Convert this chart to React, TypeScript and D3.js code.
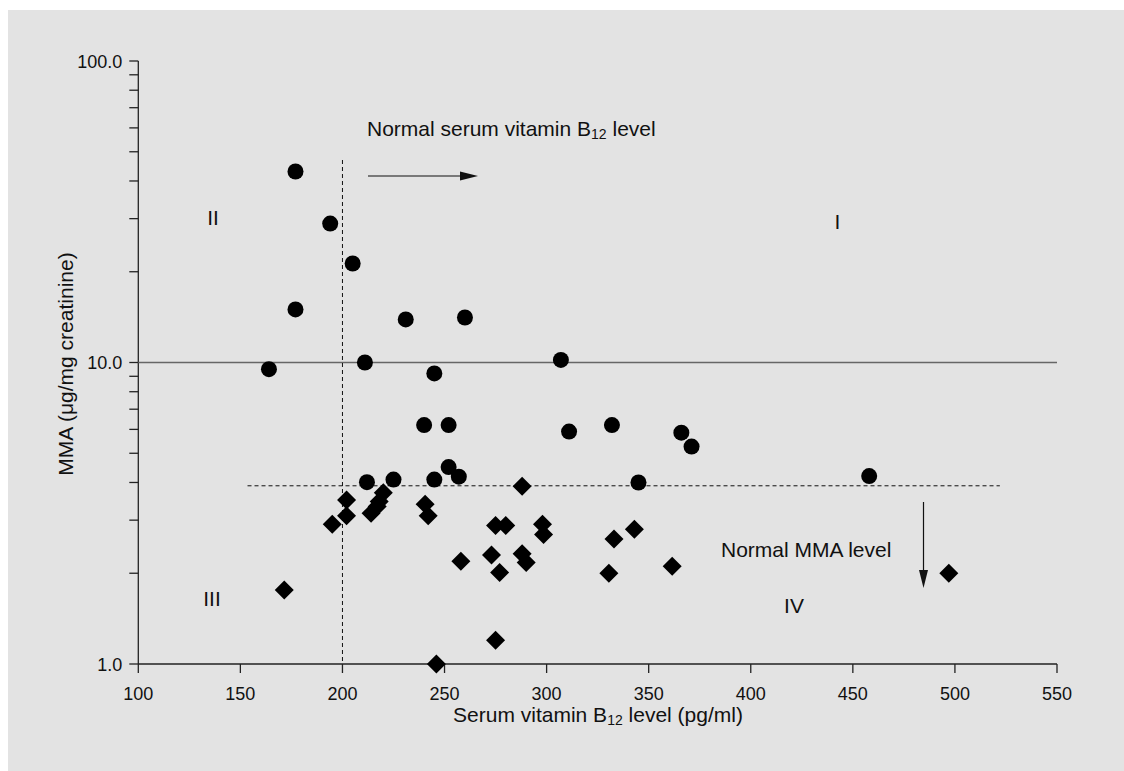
import React from "react";
import * as d3 from "d3";

// Data
const circleB12 = [177, 194, 205, 177, 231, 164, 211, 245, 260, 307, 240, 252, 311, 332, 366, 371, 252, 257, 212, 225, 245, 345, 458];
const circleMMA = [43.0, 28.9, 21.3, 15.0, 13.9, 9.5, 10.0, 9.2, 14.1, 10.2, 6.2, 6.2, 5.9, 6.2, 5.85, 5.26, 4.5, 4.18, 4.01, 4.09, 4.09, 4.0, 4.2];

const diamondB12 = [202, 202, 195, 220, 218, 217, 214, 240.5, 242, 275, 280, 258, 273, 277, 171.5, 275, 246, 288, 298, 298.5, 333, 343, 288, 290, 330.5, 361.5, 497];
const diamondMMA = [3.5, 3.1, 2.91, 3.7, 3.46, 3.33, 3.16, 3.39, 3.1, 2.88, 2.88, 2.19, 2.3, 2.01, 1.76, 1.2, 1.0, 3.89, 2.91, 2.69, 2.6, 2.8, 2.32, 2.17, 2.0, 2.11, 2.0];

const xTicks = [100, 150, 200, 250, 300, 350, 400, 450, 500, 550];
const yMajor = [1, 10, 100];
const yLabels = ["1.0", "10.0", "100.0"];

const normalB12 = 200;
const normalMMAUpper = 10;
const normalMMA = 3.9;

export default function App() {
  const W = 1124;
  const H = 771;
  const x = d3.scaleLinear().domain([100, 550]).range([138.3, 1057]);
  const y = d3.scaleLog().domain([1, 100]).range([664, 61]);
  const font = "'Liberation Sans', Arial, sans-serif";
  const tickFs = 18;
  const titleFs = 21;
  const subFs = 14;

  const yMinor: number[] = [];
  [1, 10].forEach((dec) => {
    for (let k = 2; k <= 9; k++) yMinor.push(dec * k);
  });

  const diamond = (cx: number, cy: number, r: number) =>
    `M${cx},${cy - r}L${cx + r},${cy}L${cx},${cy + r}L${cx - r},${cy}Z`;

  return (
    <svg width={W} height={H} style={{ position: "absolute", left: 0, top: 0 }}>
      <rect x={8} y={10} width={W - 8} height={H - 10} fill="#e3e3e3" />
      {/* axes */}
      <line x1={x(100)} x2={x(100)} y1={y(100)} y2={y(1)} stroke="#222" strokeWidth={1.3} />
      <line x1={x(100)} x2={x(550)} y1={y(1)} y2={y(1)} stroke="#222" strokeWidth={1.3} />
      {xTicks.map((t) => (
        <g key={"xt" + t}>
          <line x1={x(t)} x2={x(t)} y1={y(1)} y2={y(1) + 9} stroke="#222" strokeWidth={1.3} />
          <text x={x(t)} y={700} textAnchor="middle" fontFamily={font} fontSize={tickFs} fill="#111">
            {t}
          </text>
        </g>
      ))}
      {yMajor.concat(yMinor).map((t) => (
        <line key={"yt" + t} x1={x(100) - 9} x2={x(100)} y1={y(t)} y2={y(t)} stroke="#222" strokeWidth={1.3} />
      ))}
      {yMajor.map((t, i) => (
        <text key={"yl" + t} x={x(100) - 16} y={y(t) + 6.5} textAnchor="end" fontFamily={font} fontSize={tickFs} fill="#111">
          {yLabels[i]}
        </text>
      ))}
      <text x={598} y={722} textAnchor="middle" fontFamily={font} fontSize={titleFs} fill="#111">
        Serum vitamin B<tspan fontSize={subFs} dy={3}>12</tspan>
        <tspan dy={-3}> level (pg/ml)</tspan>
      </text>
      <text
        transform={`translate(73,${364}) rotate(-90)`}
        textAnchor="middle"
        fontFamily={font}
        fontSize={titleFs}
        fill="#111"
      >
        MMA (μg/mg creatinine)
      </text>

      {/* reference lines */}
      <line x1={x(100)} x2={x(550)} y1={y(normalMMAUpper)} y2={y(normalMMAUpper)} stroke="#666" strokeWidth={1.6} />
      <line x1={x(153.5)} x2={x(522)} y1={y(normalMMA)} y2={y(normalMMA)} stroke="#111" strokeWidth={1} strokeDasharray="4,3" />
      <line x1={x(normalB12)} x2={x(normalB12)} y1={160} y2={y(1)} stroke="#111" strokeWidth={1} strokeDasharray="4,3" />

      {/* arrows */}
      <line x1={368} x2={465} y1={176} y2={176} stroke="#111" strokeWidth={1.2} />
      <path d="M460,171.5L478,176L460,180.5Z" fill="#111" />
      <line x1={923.5} x2={923.5} y1={502} y2={575} stroke="#111" strokeWidth={1.2} />
      <path d="M919,570L923.5,588L928,570Z" fill="#111" />

      {/* annotations */}
      <text x={367} y={136} fontFamily={font} fontSize={titleFs} fill="#111">
        Normal serum vitamin B<tspan fontSize={subFs} dy={3}>12</tspan>
        <tspan dy={-3}> level</tspan>
      </text>
      <text x={721} y={557} fontFamily={font} fontSize={titleFs} fill="#111">
        Normal MMA level
      </text>
      <text x={213} y={225} textAnchor="middle" fontFamily={font} fontSize={21} fill="#111">II</text>
      <text x={837.5} y={229} textAnchor="middle" fontFamily={font} fontSize={21} fill="#111">I</text>
      <text x={212} y={606} textAnchor="middle" fontFamily={font} fontSize={21} fill="#111">III</text>
      <text x={794} y={613} textAnchor="middle" fontFamily={font} fontSize={21} fill="#111">IV</text>

      {/* markers */}
      {circleB12.map((v, i) => (
        <circle key={"c" + i} cx={x(v)} cy={y(circleMMA[i])} r={8} fill="#000" />
      ))}
      {diamondB12.map((v, i) => (
        <path key={"d" + i} d={diamond(x(v), y(diamondMMA[i]), 9.5)} fill="#000" />
      ))}
    </svg>
  );
}
